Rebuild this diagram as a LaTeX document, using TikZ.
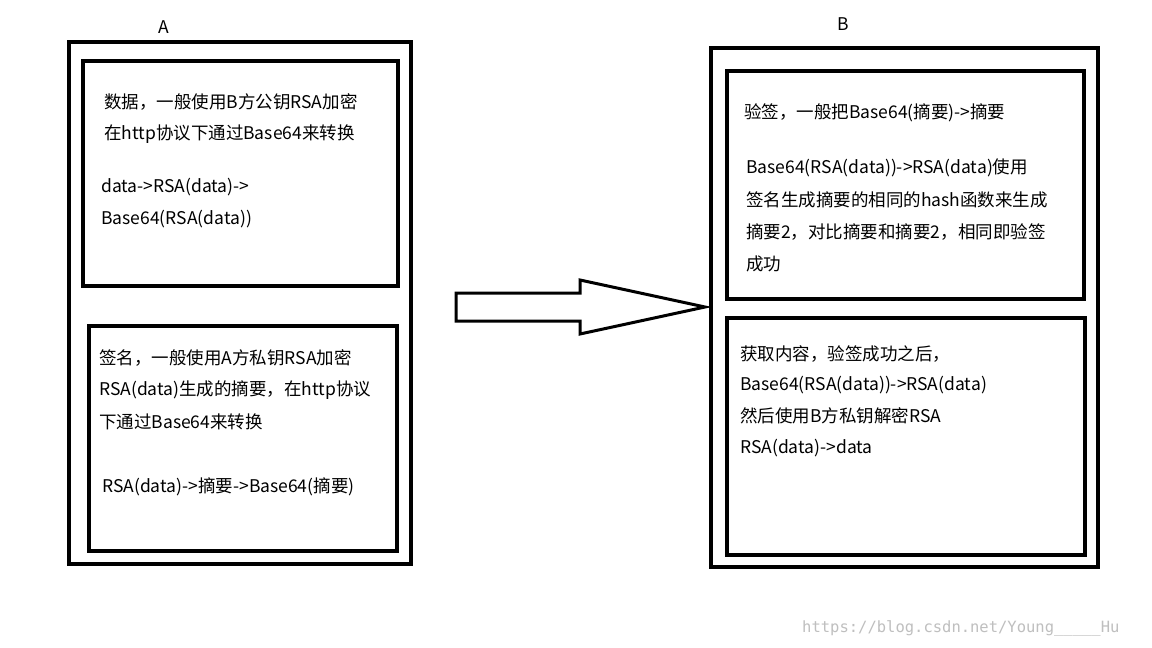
\documentclass[tikz,border=0pt]{standalone}
\usepackage{fontspec}
\setmainfont{Noto Sans CJK SC}
\newfontfamily\wm{DejaVu Sans Mono}
\begin{document}
\begin{tikzpicture}[x=1pt,y=-1pt,
  box/.style={draw=black,line width=4pt},
  txt/.style={anchor=west,inner sep=0pt,font=\fontsize{17.5}{20}\selectfont}]
\useasboundingbox[fill=white] (0,0) rectangle (1152,648);
\draw[box] (69,42) rectangle (411,564);
\draw[box] (83,61) rectangle (398,286);
\draw[box] (89,326) rectangle (397,551);
\draw[box] (711,48) rectangle (1098,567);
\draw[box] (727,71) rectangle (1084,299);
\draw[box] (727,318) rectangle (1085,555);
\node[txt] (la) at (158,27) {A};
\node[txt] (lb) at (837,24) {B};
\draw[line width=3pt,line join=miter] (456,293) -- (580,293) -- (580,280) -- (705,307) -- (580,334) -- (580,321) -- (456,321) -- cycle;
\node[txt] (a1) at (104,102) {数据，一般使用B方公钥RSA加密};
\node[txt] (a2) at (104,134) {在http协议下通过Base64来转换};
\node[txt] (a3) at (101,187) {data->RSA(data)->};
\node[txt] (a4) at (101,219) {Base64(RSA(data))};
\node[txt] (a5) at (99,358) {签名，一般使用A方私钥RSA加密};
\node[txt] (a6) at (99,390) {RSA(data)生成的摘要，在http协议};
\node[txt] (a7) at (99,422) {下通过Base64来转换};
\node[txt] (a8) at (102,487) {RSA(data)->摘要->Base64(摘要)};
\node[txt] (b1) at (744,113) {验签，一般把Base64(摘要)->摘要};
\node[txt] (b2) at (746,168) {Base64(RSA(data))->RSA(data)使用};
\node[txt] (b3) at (746,200) {签名生成摘要的相同的hash函数来生成};
\node[txt] (b4) at (746,232) {摘要2，对比摘要和摘要2，相同即验签};
\node[txt] (b5) at (746,264) {成功};
\node[txt] (c1) at (740,354) {获取内容，验签成功之后，};
\node[txt] (c2) at (740,385) {Base64(RSA(data))->RSA(data)};
\node[txt] (c3) at (740,416) {然后使用B方私钥解密RSA};
\node[txt] (c4) at (740,448) {RSA(data)->data};
\node[anchor=west,inner sep=0pt,text=black!25,font=\wm\fontsize{15.5}{17}\selectfont] (wm) at (802,628) {https://blog.csdn.net/Young\_\_\_\_\_Hu};
\end{tikzpicture}
\end{document}
